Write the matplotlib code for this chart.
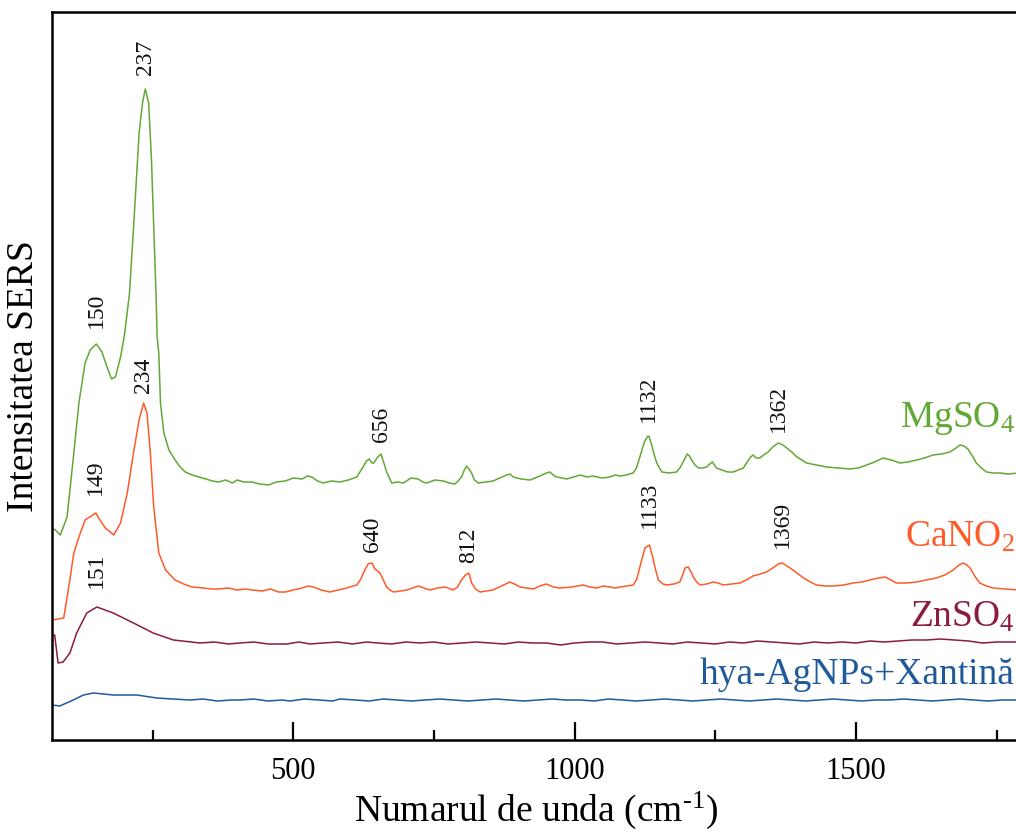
import numpy as np
import matplotlib
matplotlib.use("Agg")
import matplotlib.pyplot as plt
from matplotlib.ticker import MultipleLocator, NullLocator

plt.rcParams['font.family'] = ['Liberation Serif', 'DejaVu Serif']
plt.rcParams['mathtext.fontset'] = 'custom'
plt.rcParams['mathtext.rm'] = 'Liberation Serif'
plt.rcParams['mathtext.it'] = 'Liberation Serif:italic'

# SERS spectra (stacked, arbitrary units)
mg_wn = [71, 77, 86, 98, 110, 119, 130, 139, 150, 160, 169, 177, 184, 193, 200,
         209, 218, 226, 232, 237, 243, 248, 252, 256, 258, 261, 264, 270, 279, 290,
         299, 308, 320, 332, 345, 356, 367, 380, 392, 400, 412, 427, 440, 456, 470,
         486, 500, 516, 525, 533, 543, 553, 568, 583, 598, 613, 624, 630, 635, 640,
         643, 650, 656, 661, 666, 675, 685, 696, 709, 722, 730, 737, 752, 767, 777,
         787, 793, 799, 804, 808, 812, 817, 822, 829, 842, 855, 867, 879, 885, 891,
         905, 921, 938, 950, 956, 962, 968, 978, 986, 998, 1010, 1022, 1033, 1048, 1063,
         1072, 1081, 1092, 1104, 1110, 1116, 1124, 1129, 1132, 1137, 1141, 1146, 1155, 1168, 1181,
         1187, 1193, 1200, 1204, 1208, 1214, 1220, 1228, 1235, 1240, 1245, 1252, 1262, 1272, 1282,
         1291, 1300, 1309, 1313, 1317, 1323, 1329, 1336, 1344, 1352, 1362, 1370, 1377, 1386, 1395,
         1404, 1412, 1430, 1448, 1468, 1489, 1504, 1519, 1533, 1548, 1563, 1578, 1592, 1608, 1622,
         1637, 1652, 1667, 1678, 1685, 1692, 1699, 1707, 1714, 1723, 1732, 1744, 1756, 1770, 1790]
mg_int = [212, 210, 205, 223, 287, 337, 377, 390, 396, 388, 373, 361, 363, 383, 405,
          447, 530, 607, 637, 651, 637, 580, 513, 447, 403, 387, 337, 307, 290, 280,
          273, 268, 265, 263, 261, 259, 258, 260, 257, 260, 258, 258, 256, 255, 258,
          259, 262, 261, 264, 263, 259, 257, 259, 258, 260, 263, 273, 279, 281, 277,
          277, 283, 286, 277, 268, 257, 258, 257, 262, 261, 258, 257, 260, 259, 257,
          256, 259, 263, 270, 274, 271, 267, 260, 257, 258, 259, 262, 265, 266, 263,
          261, 260, 264, 267, 268, 265, 263, 262, 261, 263, 265, 263, 264, 262, 263,
          265, 264, 265, 267, 272, 283, 298, 303, 304, 295, 286, 277, 268, 267, 268,
          272, 278, 286, 284, 280, 275, 272, 272, 273, 276, 278, 272, 270, 268, 268,
          270, 272, 280, 283, 285, 282, 282, 285, 288, 293, 297, 295, 292, 288, 283,
          280, 277, 275, 273, 272, 271, 272, 275, 278, 282, 280, 277, 278, 280, 282,
          285, 286, 288, 292, 295, 294, 291, 284, 277, 272, 268, 267, 267, 266, 267]

ca_wn = [71, 92, 101, 110, 119, 130, 149, 154, 166, 181, 193, 205, 216, 226, 234,
         240, 246, 252, 261, 273, 290, 305, 320, 340, 355, 367, 385, 400, 415, 427,
         445, 460, 474, 486, 500, 516, 526, 536, 550, 565, 580, 595, 606, 613, 620,
         627, 633, 640, 645, 650, 654, 660, 666, 672, 678, 690, 702, 712, 722, 732,
         743, 756, 770, 784, 792, 799, 806, 812, 817, 824, 832, 843, 855, 870, 885,
         893, 903, 915, 927, 938, 950, 962, 974, 995, 1015, 1027, 1039, 1051, 1063, 1072,
         1081, 1092, 1104, 1110, 1116, 1125, 1133, 1140, 1144, 1149, 1157, 1164, 1176, 1187, 1192,
         1196, 1202, 1207, 1211, 1217, 1223, 1235, 1246, 1255, 1264, 1279, 1294, 1305, 1317, 1330,
         1341, 1352, 1362, 1369, 1383, 1395, 1407, 1419, 1430, 1445, 1460, 1478, 1495, 1510, 1525,
         1540, 1552, 1562, 1572, 1590, 1608, 1625, 1643, 1658, 1673, 1683, 1691, 1697, 1703, 1711,
         1720, 1732, 1744, 1765, 1790]
ca_int = [120, 122, 153, 187, 203, 220, 227, 222, 212, 205, 217, 247, 287, 320, 337,
          327, 287, 233, 187, 170, 160, 156, 153, 152, 151, 151, 152, 150, 151, 150,
          149, 151, 148, 148, 150, 152, 154, 153, 150, 148, 150, 152, 154, 155, 161,
          170, 176, 177, 171, 169, 167, 160, 153, 150, 148, 149, 150, 152, 154, 152,
          150, 152, 153, 150, 153, 160, 165, 167, 157, 151, 148, 149, 150, 154, 158,
          156, 153, 152, 151, 154, 156, 153, 152, 153, 155, 153, 152, 154, 153, 152,
          153, 154, 155, 160, 173, 192, 195, 180, 170, 160, 156, 155, 156, 158, 165,
          172, 173, 168, 163, 158, 155, 156, 158, 157, 155, 156, 157, 160, 164, 166,
          168, 172, 176, 177, 172, 167, 162, 158, 155, 154, 154, 155, 157, 158, 160,
          162, 163, 160, 157, 157, 158, 160, 162, 165, 170, 175, 177, 175, 172, 164,
          157, 154, 152, 151, 150]

zn_wn = [71, 76, 82, 91, 103, 115, 133, 151, 180, 216, 251, 287, 334, 360, 385,
         405, 430, 455, 488, 510, 530, 553, 580, 605, 630, 650, 675, 700, 725, 750,
         775, 800, 825, 850, 875, 900, 925, 950, 975, 1000, 1025, 1050, 1075, 1100, 1125,
         1150, 1175, 1200, 1225, 1250, 1275, 1300, 1325, 1350, 1375, 1400, 1425, 1450, 1475, 1500,
         1525, 1550, 1575, 1600, 1625, 1650, 1675, 1700, 1725, 1750, 1790]
zn_int = [105, 105, 77, 78, 87, 107, 127, 133, 127, 117, 107, 100, 97, 98, 96,
          97, 98, 96, 96, 98, 96, 97, 98, 96, 98, 97, 96, 98, 97, 98,
          96, 97, 98, 97, 96, 98, 97, 97, 95, 97, 98, 98, 96, 97, 98,
          97, 96, 98, 97, 96, 98, 97, 99, 98, 97, 96, 98, 97, 98, 97,
          99, 98, 99, 100, 100, 101, 100, 99, 97, 98, 98]

hya_wn = [71, 85, 109, 127, 145, 180, 222, 257, 316, 340, 365, 390, 405, 430, 455,
          480, 494, 520, 545, 570, 583, 610, 635, 660, 685, 710, 735, 760, 785, 810,
          835, 860, 885, 910, 935, 960, 985, 1010, 1035, 1060, 1085, 1110, 1135, 1160, 1185,
          1210, 1235, 1260, 1285, 1310, 1335, 1360, 1385, 1410, 1435, 1460, 1485, 1510, 1535, 1560,
          1585, 1610, 1635, 1660, 1685, 1710, 1735, 1760, 1790]
hya_int = [35, 34, 40, 45, 47, 45, 45, 42, 40, 41, 39, 40, 40, 41, 39,
           40, 39, 41, 40, 39, 41, 40, 39, 41, 40, 39, 40, 41, 40, 39,
           40, 41, 40, 39, 40, 41, 40, 40, 39, 41, 40, 39, 40, 41, 40,
           39, 40, 41, 40, 39, 40, 41, 40, 39, 40, 41, 40, 39, 40, 40,
           41, 40, 39, 40, 41, 40, 39, 40, 40]

# peak labels: wavenumber and height of label base
mg_peaks = [150, 237, 656, 1132, 1362]
mg_peak_y = [412, 665, 298, 318, 308]
ca_peaks = [149, 234, 640, 812, 1133, 1369]
ca_peak_y = [245, 347, 188, 177, 212, 192]
zn_peaks = [151]
zn_peak_y = [152]

names = ['MgSO$_4$', 'CaNO$_2$', 'ZnSO$_4$', 'hya-AgNPs+Xantină']
name_y = [313, 193, 113, 56]
colors = ['#62a834', '#ff5a28', '#8c1c3c', '#1f5a9a']

fig = plt.figure(figsize=(10.16, 8.33), dpi=100)
ax = fig.add_axes([52 / 1016, 93 / 833, 967 / 1016, 728 / 833])

series = [(mg_wn, mg_int), (ca_wn, ca_int), (zn_wn, zn_int), (hya_wn, hya_int)]
for (wn, inten), c in zip(series, colors):
    ax.plot(wn, inten, color=c, lw=1.1)

for peaks, ys in [(mg_peaks, mg_peak_y), (ca_peaks, ca_peak_y), (zn_peaks, zn_peak_y)]:
    for p, y in zip(peaks, ys):
        ax.text(p, y, str(p), rotation=90, ha='center', va='bottom',
                fontsize=17, color='#111111')

for name, y, c in zip(names, name_y, colors):
    ax.text(1782, y, name, ha='right', va='baseline', fontsize=27, color=c)

ax.set_xlim(71.2, 1789.8)
ax.set_ylim(0, 728)
ax.xaxis.set_major_locator(MultipleLocator(500))
ax.xaxis.set_minor_locator(MultipleLocator(250))
ax.yaxis.set_major_locator(NullLocator())
ax.tick_params(axis='x', which='major', direction='in', length=13, width=1.6,
               labelsize=22, pad=12)
ax.tick_params(axis='x', which='minor', direction='in', length=7, width=1.6)
for s in ax.spines.values():
    s.set_linewidth(1.8)

ax.set_xlabel(r'Numarul de unda (cm$^{\text{-}1}$)', fontsize=27, labelpad=3)
ax.set_ylabel('Intensitatea SERS', fontsize=27, labelpad=8)

plt.savefig('out.png', dpi=100)
plt.close()
